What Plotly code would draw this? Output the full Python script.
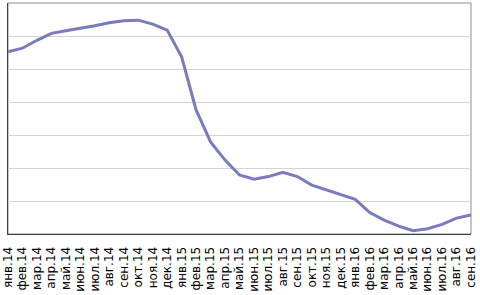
import plotly.graph_objects as go

months = ["янв", "фев", "мар", "апр", "май", "июн", "июл", "авг", "сен", "окт", "ноя", "дек"]
categories = [f"{m}.{y}" for y in ("14", "15", "16") for m in months][:33]

values = [5.52, 5.63, 5.87, 6.08, 6.16, 6.23, 6.31, 6.40, 6.46, 6.48, 6.36, 6.18,
          5.37, 3.76, 2.79, 2.24, 1.79, 1.66, 1.74, 1.87, 1.74, 1.48, 1.33, 1.19,
          1.05, 0.65, 0.42, 0.24, 0.10, 0.16, 0.29, 0.48, 0.58]

fig = go.Figure()
fig.add_trace(go.Scatter(
    x=categories, y=values, mode="lines",
    line=dict(color="#7a7abf", width=3),
    hoverinfo="skip",
))

fig.add_shape(type="rect", xref="paper", yref="paper", x0=0, x1=1, y0=0, y1=1,
              line=dict(color="#8c8c8c", width=1), layer="below")

fig.update_layout(
    width=480, height=295,
    margin=dict(l=8, r=9, t=3, b=61, autoexpand=False),
    paper_bgcolor="white", plot_bgcolor="white",
    showlegend=False,
    font=dict(family="DejaVu Sans", size=12, color="#000000"),
    xaxis=dict(
        type="category", range=[0, 32], automargin=False,
        tickangle=-90, showgrid=False,
        showline=True, linecolor="#404040", linewidth=1,
        ticks="", tickfont=dict(size=12, family="DejaVu Sans"),
        ticklabelstandoff=7,
        zeroline=False,
    ),
    yaxis=dict(
        range=[0, 7], dtick=1, showticklabels=False, automargin=False,
        showgrid=True, gridcolor="#d4d4d4", gridwidth=1,
        showline=True, linecolor="#404040", linewidth=1,
        zeroline=False, ticks="",
    ),
)

fig.write_html("out.html", config={"displayModeBar": False},
               post_script="document.body.style.margin='0';document.body.style.overflow='hidden';")
